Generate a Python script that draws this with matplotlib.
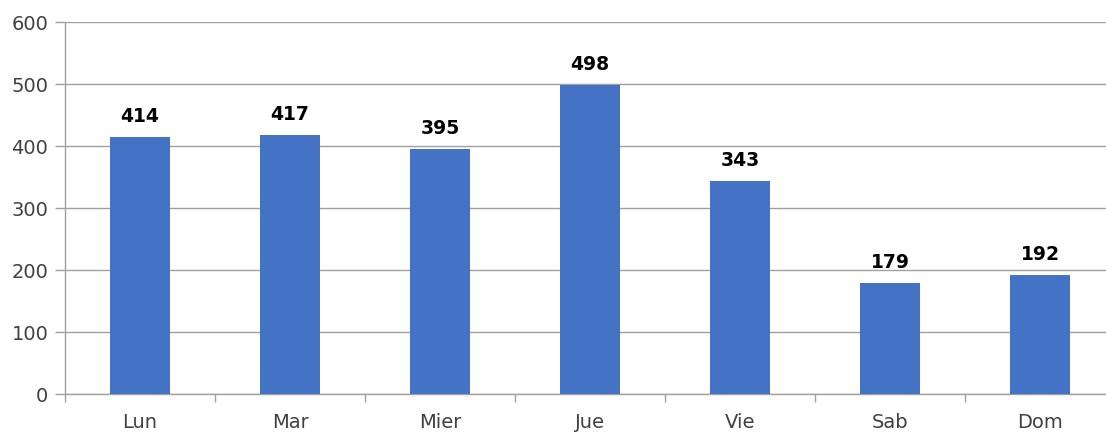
import matplotlib.pyplot as plt
import numpy as np

dias = ['Lun', 'Mar', 'Mier', 'Jue', 'Vie', 'Sab', 'Dom']
valores = [414, 417, 395, 498, 343, 179, 192]
yticks = [0, 100, 200, 300, 400, 500, 600]

W, H = 1106, 432
fig = plt.figure(figsize=(W / 100, H / 100), dpi=100)
# axes runs a little past the right edge of the figure
ax = fig.add_axes([65 / W, 1 - 394 / H, 1050 / W, 372 / H])

x = np.arange(len(dias))
ax.bar(x, valores, width=0.4, color='#4472C4', zorder=3)

for xi, v in zip(x, valores):
    ax.annotate(str(v), (xi, v), xytext=(0, 8), textcoords='offset points',
                ha='center', va='bottom', fontsize=13.5, fontweight='bold', color='black')

ax.set_xlim(-0.5, len(dias) - 0.5)
ax.set_ylim(0, 600)
ax.set_yticks(yticks)
ax.set_yticklabels([str(t) for t in yticks], fontsize=14, color='#404040')
ax.set_xticks(x)
ax.set_xticklabels(dias, fontsize=14, color='#404040')
ax.set_xticks(np.arange(len(dias)) - 0.5, minor=True)
ax.tick_params(axis='x', which='major', length=0, pad=14)
ax.tick_params(axis='x', which='minor', length=6, color='#a0a0a0', width=1)
ax.tick_params(axis='y', length=7, color='#a0a0a0', width=1, pad=5)

ax.grid(axis='y', color='#a0a0a0', linewidth=1, zorder=0)
for s in ['top', 'right']:
    ax.spines[s].set_visible(False)
for s in ['left', 'bottom']:
    ax.spines[s].set_color('#a0a0a0')
    ax.spines[s].set_linewidth(1)

fig.savefig('out.png', dpi=100)
